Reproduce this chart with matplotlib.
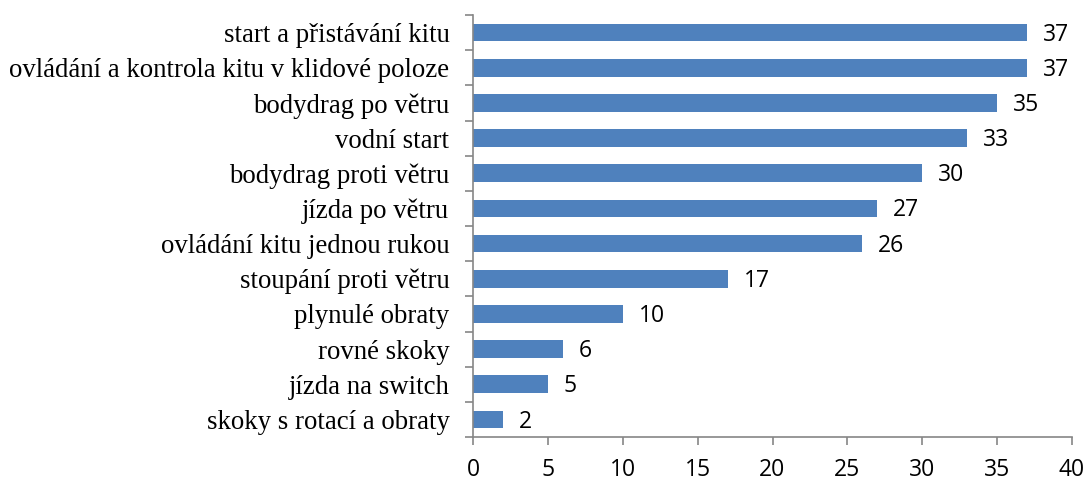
import matplotlib
matplotlib.use("Agg")
import matplotlib.pyplot as plt
import numpy as np

# data (top to bottom as in the chart)
categories = [
    "start a přistávání kitu",
    "ovládání a kontrola kitu v klidové poloze",
    "bodydrag po větru",
    "vodní start",
    "bodydrag proti větru",
    "jízda po větru",
    "ovládání kitu jednou rukou",
    "stoupání proti větru",
    "plynulé obraty",
    "rovné skoky",
    "jízda na switch",
    "skoky s rotací a obraty",
]
counts = [37, 37, 35, 33, 30, 27, 26, 17, 10, 6, 5, 2]
x_ticks = [0, 5, 10, 15, 20, 25, 30, 35, 40]

bar_color = "#4F81BD"
axis_color = "#868686"

W, H = 1086, 482
fig = plt.figure(figsize=(W / 100, H / 100), dpi=100)
ax = fig.add_axes([473 / W, 1 - 437 / H, (1072 - 473) / W, (437 - 15) / H])

n = len(categories)
ypos = np.arange(n)[::-1]
ax.barh(ypos, counts, height=0.5, color=bar_color)

for y, v in zip(ypos, counts):
    ax.annotate(str(v), (v, y), xytext=(11.5, -1.5), textcoords="offset points",
                ha="left", va="center", fontsize=16.5, family="Open Sans",
                color="black")

ax.set_xlim(0, 40)
ax.set_ylim(-0.5, n - 0.5)
ax.set_xticks(x_ticks)
ax.set_xticklabels([str(t) for t in x_ticks], family="Open Sans", fontsize=16.5)

ax.set_yticks(ypos)
ax.set_yticklabels(categories, family="Liberation Serif", fontsize=19.3)
ax.tick_params(axis="y", which="major", length=0, pad=17)
ax.set_yticks(np.arange(n + 1) - 0.5, minor=True)
ax.tick_params(axis="y", which="minor", length=6, color=axis_color, width=1.2)
ax.tick_params(axis="x", length=6, color=axis_color, width=1.2, pad=9)

for s in ["top", "right"]:
    ax.spines[s].set_visible(False)
for s in ["left", "bottom"]:
    ax.spines[s].set_color(axis_color)
    ax.spines[s].set_linewidth(1.2)

fig.savefig("out.png", dpi=100)
